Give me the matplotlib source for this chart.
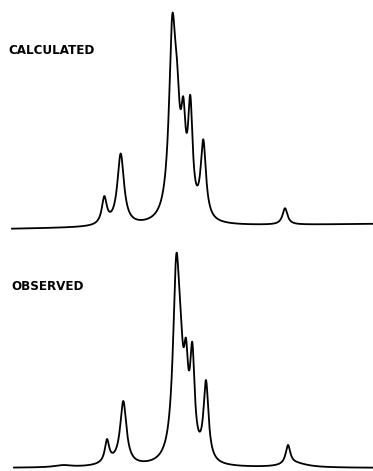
import numpy as np
import matplotlib.pyplot as plt

# peak positions (chart units), heights above baseline and half widths
calc_pos = [104.3, 120.7, 172.3, 177.0, 183.3, 190.3, 203.3, 285.0]
calc_height = [31.7, 74.0, 212.5, 166.7, 130.0, 131.6, 87.0, 17.0]
calc_width = [3.0, 4.0, 4.0, 3.4, 2.8, 2.8, 3.2, 3.0]
calc_drift = [-0.5, 4.5]   # baseline level at left and right end
calc_range = [12, 373]

obs_pos = [107.0, 123.3, 176.3, 180.5, 186.0, 192.3, 206.0, 288.0]
obs_height = [29.0, 67.0, 214.0, 161.0, 130.0, 126.0, 88.0, 23.0]
obs_width = [2.6, 3.8, 4.0, 3.4, 2.6, 2.8, 3.0, 2.8]
obs_drift = [0.0, 0.0]
obs_range = [14, 373]
# broad humps under the observed trace
obs_hump_pos = [63.0, 112.0, 295.0]
obs_hump_height = [2.0, 3.0, 4.0]
obs_hump_width = [10.0, 15.0, 15.0]


def lorentz(x, x0, w):
    return 1.0 / (1.0 + ((x - x0) / w) ** 2)


def trace(x_range, pos, height, width, drift, humps=([], [], [])):
    pos = np.array(pos)
    width = np.array(width)
    x = np.linspace(x_range[0], x_range[1], 3000)

    def humps_at(xx):
        return sum((h * lorentz(xx, p, w) for p, h, w in zip(*humps)), np.zeros_like(xx))

    # amplitudes chosen so the summed curve reaches the read heights at each peak
    m = lorentz(pos[:, None], pos[None, :], width[None, :])
    amps = np.linalg.solve(m, np.array(height) - humps_at(pos))

    y = np.interp(x, x_range, drift) + humps_at(x)
    for a, p, w in zip(amps, pos, width):
        y = y + a * lorentz(x, p, w)
    return x, y


fig = plt.figure(figsize=(3.73, 4.71), dpi=100)

ax_top = fig.add_axes([0, 236 / 471, 1, 235 / 471])
x, y = trace(calc_range, calc_pos, calc_height, calc_width, calc_drift)
ax_top.plot(x, y, color="black", lw=1.3)
ax_top.set_xlim(0, 373)
ax_top.set_ylim(-6.5, 228.5)
ax_top.axis("off")

ax_bot = fig.add_axes([0, 0, 1, 236 / 471])
x, y = trace(obs_range, obs_pos, obs_height, obs_width, obs_drift,
             (obs_hump_pos, obs_hump_height, obs_hump_width))
ax_bot.plot(x, y, color="black", lw=1.3)
ax_bot.set_xlim(0, 373)
ax_bot.set_ylim(-3, 233)
ax_bot.axis("off")

label_font = dict(family=["DejaVu Sans"], fontstretch="condensed", fontsize=9.5,
                  fontweight="bold", va="baseline", ha="left")
fig.text(8.3 / 373, 1 - 54.3 / 471, "CALCULATED", **label_font)
fig.text(11.7 / 373, 1 - 290 / 471, "OBSERVED", **label_font)

fig.savefig("out.png", dpi=100)
